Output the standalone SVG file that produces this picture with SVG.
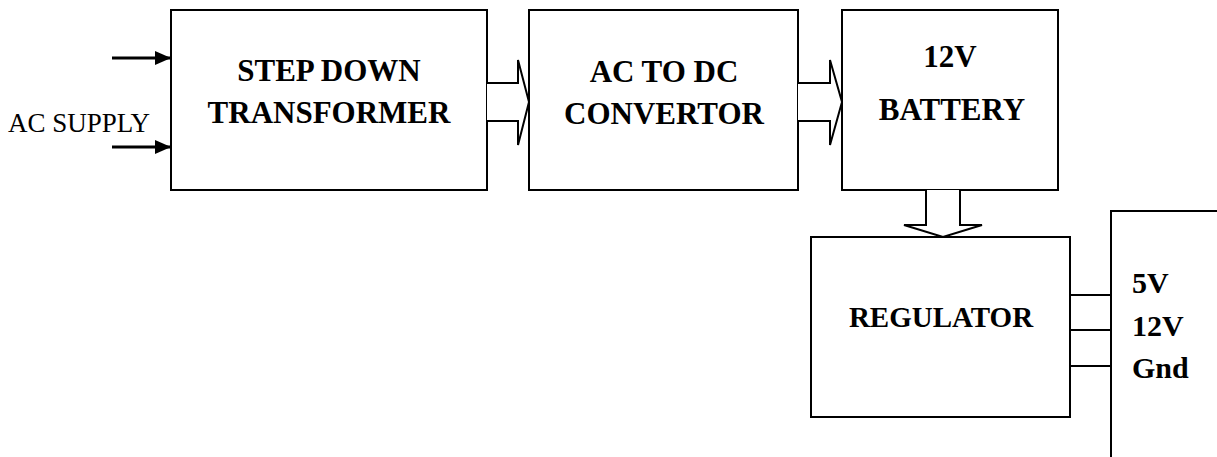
<svg xmlns="http://www.w3.org/2000/svg" width="1217" height="457" viewBox="0 0 1217 457">
<style>
.box{fill:#fff;stroke:#000;stroke-width:2}
.t{font-family:"Liberation Serif","Times New Roman",serif;font-weight:bold;font-size:31px;fill:#000;text-anchor:middle}
.s{font-family:"Liberation Serif","Times New Roman",serif;font-weight:bold;font-size:30px;fill:#000}
.r{font-family:"Liberation Serif","Times New Roman",serif;font-size:27px;fill:#000}
.ln{stroke:#000;stroke-width:2;fill:none}
.hol{fill:#fff;stroke:#000;stroke-width:2;stroke-linejoin:miter}
.in{stroke:#000;stroke-width:3;fill:none}
</style>
<defs>
<marker id="ah" markerUnits="userSpaceOnUse" markerWidth="16" markerHeight="16" refX="16" refY="8" orient="auto">
<path d="M0,1 L16,8 L0,15 Z" fill="#000"/>
</marker>
</defs>
<rect width="1217" height="457" fill="#fff"/>
<g id="transformer">
<rect class="box" x="171" y="10" width="316" height="180"/>
<text class="t" x="329" y="81">STEP DOWN</text>
<text class="t" x="329" y="123">TRANSFORMER</text>
</g>
<g id="converter">
<rect class="box" x="529" y="10" width="269" height="180"/>
<text class="t" x="664" y="82">AC TO DC</text>
<text class="t" x="664" y="124">CONVERTOR</text>
</g>
<g id="battery">
<rect class="box" x="842" y="10" width="216" height="180"/>
<text class="t" x="950" y="67">12V</text>
<text class="t" x="952" y="120">BATTERY</text>
</g>
<g id="regulator">
<rect class="box" x="811" y="237" width="259" height="180"/>
<text class="t" x="941" y="327" style="font-size:29px">REGULATOR</text>
</g>
<g id="output">
<path class="ln" d="M1111,457 V211 H1217"/>
<text class="s" x="1132" y="293">5V</text>
<text class="s" x="1132" y="336">12V</text>
<text class="s" x="1132" y="378">Gnd</text>
</g>
<g id="ac-supply">
<text class="r" x="8" y="132">AC SUPPLY</text>
</g>
<g id="connectors">
<line class="in" x1="112" y1="58" x2="171" y2="58" marker-end="url(#ah)"/>
<line class="in" x1="112" y1="147" x2="171" y2="147" marker-end="url(#ah)"/>
<path class="hol" d="M487,83 H518 V60 L529,102 L518,145 V121 H487"/>
<path class="hol" d="M798,83 H830 V60 L842,102 L830,145 V121 H798"/>
<path class="hol" d="M926,190 V225 H904 L943,237 L982,225 H960 V190"/>
<line class="ln" x1="1070" y1="295" x2="1111" y2="295"/>
<line class="ln" x1="1070" y1="330" x2="1111" y2="330"/>
<line class="ln" x1="1070" y1="366" x2="1111" y2="366"/>
</g>
</svg>
